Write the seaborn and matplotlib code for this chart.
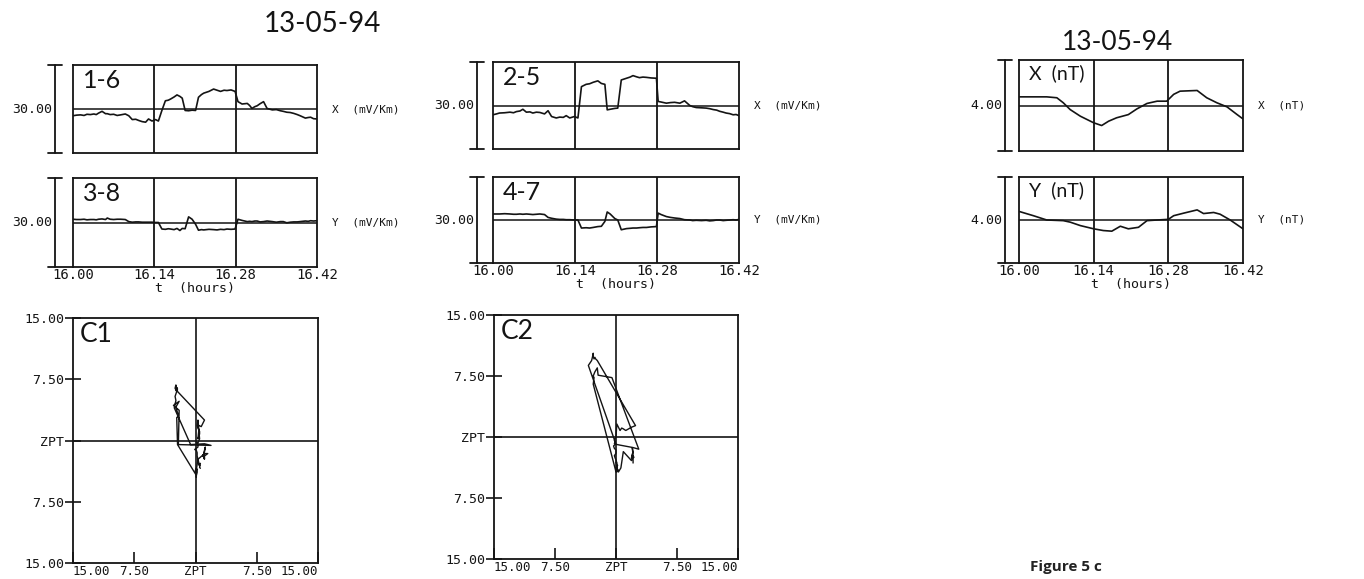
import numpy as np
import matplotlib
matplotlib.use("Agg")
import matplotlib.pyplot as plt
import seaborn as sns

# ---------------- data ----------------
title = "13-05-94"
x_ticks = [16.00, 16.14, 16.28, 16.42]
x_tick_labels = ["16.00", "16.14", "16.28", "16.42"]
hodo_ticks = [-15.0, -7.5, 0.0, 7.5, 15.0]
hodo_tick_labels = ["15.00", "7.50", "ZPT", "7.50", "15.00"]

# left column: electric channels 1-6 (X) and 3-8 (Y), mV/Km
t_left = [16.000, 16.006, 16.013, 16.019, 16.024, 16.030, 16.036, 16.040, 16.044, 16.050,
          16.056, 16.059, 16.064, 16.070, 16.076, 16.082, 16.090, 16.096, 16.102, 16.108,
          16.113, 16.119, 16.125, 16.130, 16.136, 16.142, 16.147, 16.153, 16.159, 16.164,
          16.168, 16.174, 16.179, 16.184, 16.188, 16.193, 16.199, 16.205, 16.211, 16.216,
          16.221, 16.225, 16.234, 16.242, 16.248, 16.254, 16.260, 16.265, 16.272, 16.279,
          16.284, 16.291, 16.300, 16.304, 16.308, 16.313, 16.317, 16.322, 16.328, 16.334,
          16.343, 16.350, 16.357, 16.362, 16.368, 16.374, 16.380, 16.386, 16.391, 16.400,
          16.405, 16.409, 16.414, 16.420]
ex_16 = [-2.3, -2.1, -2.0, -2.2, -1.8, -1.9, -1.7, -1.9, -1.4, -0.8,
         -1.6, -1.6, -1.9, -1.8, -2.2, -2.0, -1.7, -2.3, -3.6, -3.5,
         -3.9, -4.3, -4.5, -3.4, -4.1, -3.6, -4.1, -0.5, 2.8, 3.0,
         3.4, 4.1, 4.8, 4.3, 3.7, -0.5, -0.6, -0.4, -0.5, 4.0,
         4.9, 5.4, 6.0, 6.8, 6.4, 6.0, 6.4, 6.3, 6.5, 6.0,
         2.5, 1.7, 1.9, 1.2, 0.2, 0.8, 1.1, 1.8, 2.5, 0.2,
         -0.3, -0.2, -0.6, -0.8, -1.1, -1.2, -1.5, -1.9, -2.3, -3.1,
         -2.9, -2.8, -3.3, -3.4]
ey_38 = [1.1, 1.0, 1.0, 1.1, 0.9, 1.0, 1.0, 0.9, 1.1, 1.2,
         1.0, 1.5, 1.1, 1.0, 1.1, 1.1, 1.0, 0.3, 0.1, 0.2,
         0.2, 0.1, 0.1, 0.1, 0.1, 0.0, 0.0, -2.2, -2.3, -2.1,
         -2.2, -2.4, -2.0, -2.7, -2.0, -2.1, 1.9, 1.1, -0.6, -2.6,
         -2.4, -2.5, -2.3, -2.4, -2.5, -2.3, -2.4, -2.2, -2.3, -2.2,
         1.1, 0.7, 0.3, 0.4, 0.3, 0.5, 0.5, 0.2, 0.3, 0.5,
         0.3, 0.1, 0.3, 0.3, -0.1, 0.1, 0.2, 0.2, 0.3, 0.5,
         0.4, 0.6, 0.5, 0.6]

# middle column: electric channels 2-5 (X) and 4-7 (Y), mV/Km
t_right = [16.000, 16.006, 16.011, 16.020, 16.029, 16.035, 16.040, 16.046, 16.051, 16.057,
           16.063, 16.068, 16.074, 16.080, 16.088, 16.094, 16.100, 16.108, 16.114, 16.120,
           16.125, 16.131, 16.139, 16.145, 16.151, 16.159, 16.165, 16.171, 16.179, 16.185,
           16.191, 16.195, 16.200, 16.208, 16.213, 16.219, 16.228, 16.234, 16.239, 16.245,
           16.250, 16.256, 16.262, 16.270, 16.279, 16.282, 16.287, 16.296, 16.303, 16.310,
           16.319, 16.327, 16.336, 16.341, 16.347, 16.356, 16.364, 16.370, 16.376, 16.382,
           16.387, 16.393, 16.398, 16.404, 16.410, 16.415, 16.420]
ex_25 = [-3.2, -2.9, -2.6, -2.5, -2.3, -2.5, -2.1, -1.9, -1.3, -2.3,
         -2.2, -2.6, -2.3, -2.4, -2.9, -1.8, -3.8, -4.3, -4.0, -4.1,
         -3.5, -4.3, -3.8, -4.3, 6.5, 7.3, 7.5, 8.0, 8.5, 7.6,
         7.3, -1.5, -1.3, -1.0, -0.9, 8.8, 9.4, 9.8, 10.3, 9.9,
         9.6, 9.8, 9.7, 9.5, 9.4, 1.4, 1.2, 0.8, 1.0, 1.1,
         0.8, 1.6, 0.0, -0.4, -0.7, -0.8, -0.9, -1.1, -1.4, -1.6,
         -2.0, -2.3, -2.6, -2.8, -3.2, -3.1, -3.5]
ey_47 = [2.1, 2.1, 2.1, 2.2, 2.1, 2.0, 2.0, 2.1, 2.0, 2.1,
         2.0, 1.9, 2.0, 2.1, 1.9, 0.9, 0.6, 0.3, 0.2, 0.2,
         0.1, 0.1, 0.0, 0.0, -2.8, -2.7, -2.8, -2.6, -2.3, -2.2,
         -0.5, 2.8, 2.1, 0.5, 0.0, -3.4, -3.0, -2.9, -2.8, -2.8,
         -2.7, -2.6, -2.6, -2.4, -2.3, 2.4, 1.9, 1.2, 0.9, 0.7,
         0.5, 0.1, 0.0, -0.2, -0.1, -0.2, -0.1, -0.3, -0.2, 0.0,
         0.0, -0.2, -0.1, 0.0, 0.1, 0.0, 0.2]

# right column: magnetic channels, nT
t_mag_x = [16.000, 16.052, 16.071, 16.083, 16.096, 16.115, 16.140, 16.155, 16.168, 16.183,
           16.205, 16.221, 16.240, 16.259, 16.277, 16.290, 16.302, 16.334, 16.352, 16.371,
           16.390, 16.409, 16.420]
bx_nt = [0.38, 0.38, 0.34, 0.12, -0.18, -0.47, -0.76, -0.88, -0.69, -0.54,
         -0.40, -0.15, 0.09, 0.19, 0.19, 0.49, 0.63, 0.66, 0.34, 0.12,
         -0.06, -0.40, -0.59]
t_mag_y = [16.000, 16.027, 16.052, 16.083, 16.096, 16.115, 16.140, 16.158, 16.174, 16.190,
           16.205, 16.224, 16.240, 16.259, 16.280, 16.290, 16.309, 16.334, 16.346, 16.365,
           16.377, 16.396, 16.420]
by_nt = [0.40, 0.20, 0.00, -0.03, -0.10, -0.26, -0.41, -0.49, -0.52, -0.29,
         -0.41, -0.34, -0.03, 0.00, 0.03, 0.20, 0.32, 0.47, 0.30, 0.35,
         0.27, 0.00, -0.41]

# ---------------- style ----------------
sns.set_theme(style="white")
plt.rcParams['font.family'] = ['DejaVu Sans Mono', 'DejaVu Sans']
INK = "#141414"
LABEL_FONT = dict(family=['Lato', 'DejaVu Sans'], weight='normal')

W, H = 1364, 579
fig = plt.figure(figsize=(W / 100, H / 100), dpi=100)
fig.patch.set_facecolor("white")


def rect(l, t, r, b):
    return [l / W, 1 - b / H, (r - l) / W, (b - t) / H]


def frame(ax, lw=1.3):
    for s in ax.spines.values():
        s.set_visible(True)
        s.set_color(INK)
        s.set_linewidth(lw)
    ax.set_facecolor("white")


def ts_panel(box, t, v, half, label, scale_text, side_text, bracket_x, label_size=18, bottom=False):
    l, tp, r, b = box
    w, h = r - l, b - tp
    ax = fig.add_axes(rect(*box))
    sns.lineplot(x=np.asarray(t), y=np.asarray(v), ax=ax, color=INK, lw=1.2,
                 sort=False, estimator=None)
    ax.set_xlim(16.0, 16.42)
    ax.set_ylim(-half, half)
    ax.axhline(0, color=INK, lw=1.1)
    for xv in x_ticks[1:3]:
        ax.axvline(xv, color=INK, lw=1.3)
    frame(ax)
    ax.set_yticks([])
    ax.set_ylabel("")
    # scale bracket
    bxa = (bracket_x - l) / w
    cap = 7 / w
    kw = dict(transform=ax.transAxes, clip_on=False, color=INK, lw=1.3)
    ax.plot([bxa, bxa], [0, 1], **kw)
    ax.plot([bxa - cap, bxa + cap], [1, 1], **kw)
    ax.plot([bxa - cap, 0.0 if bottom else bxa + cap], [0, 0], **kw)
    ax.text(bxa - 3 / w, 0.5, scale_text, transform=ax.transAxes, ha='right', va='center',
            fontsize=9.5, color=INK)
    ax.text(1 + 15 / w, 0.5, side_text, transform=ax.transAxes, ha='left', va='center',
            fontsize=8, color=INK)
    ax.text(10 / w, 1 - 4 / h, label, transform=ax.transAxes, ha='left', va='top',
            fontsize=label_size, color=INK, **LABEL_FONT)
    if bottom:
        ax.set_xticks(x_ticks, x_tick_labels)
        ax.tick_params(axis='x', length=0, pad=1, labelsize=10, colors=INK)
        ax.set_xlabel("t  (hours)", fontsize=9.5, color=INK, labelpad=0)
    else:
        ax.set_xticks([])
        ax.set_xlabel("")
    return ax


def hodo_panel(box, xs, ys, label):
    l, tp, r, b = box
    w, h = r - l, b - tp
    ax = fig.add_axes(rect(*box))
    sns.lineplot(x=np.asarray(xs), y=np.asarray(ys), ax=ax, color=INK, lw=1.0,
                 sort=False, estimator=None)
    ax.set_xlim(-15, 15)
    ax.set_ylim(-15, 15)
    ax.axhline(0, color=INK, lw=1.2)
    ax.axvline(0, color=INK, lw=1.2)
    frame(ax)
    ax.set_xticks(hodo_ticks, hodo_tick_labels)
    ax.set_yticks(hodo_ticks, hodo_tick_labels)
    ax.tick_params(axis='y', direction='inout', length=11, width=1.2, colors=INK,
                   labelsize=9.5, left=True, pad=1)
    ax.tick_params(axis='x', direction='in', length=8, width=1.2, colors=INK,
                   labelsize=9, bottom=True, pad=1.5)
    xl = ax.get_xticklabels()
    xl[0].set_ha('left')
    xl[-1].set_ha('right')
    ax.set_xlabel("")
    ax.set_ylabel("")
    ax.text(7 / w, 1 - 4 / h, label, transform=ax.transAxes, ha='left', va='top',
            fontsize=19, color=INK, **LABEL_FONT)
    return ax


# time-series panels
ts_panel((73, 65, 317, 153), t_left, ex_16, 15, "1-6", "30.00", "X  (mV/Km)", 55)
ts_panel((73, 178, 317, 267), t_left, ey_38, 15, "3-8", "30.00", "Y  (mV/Km)", 55, bottom=True)
ts_panel((493, 62, 739, 149), t_right, ex_25, 15, "2-5", "30.00", "X  (mV/Km)", 477)
ts_panel((493, 177, 739, 263), t_right, ey_47, 15, "4-7", "30.00", "Y  (mV/Km)", 477, bottom=True)
ts_panel((1019, 60, 1243, 151), t_mag_x, bx_nt, 2, "X  (nT)", "4.00", "X  (nT)", 1005, label_size=14)
ts_panel((1019, 177, 1243, 263), t_mag_y, by_nt, 2, "Y  (nT)", "4.00", "Y  (nT)", 1005, label_size=14,
         bottom=True)

# hodograms (Y component horizontal, X component vertical)
hodo_panel((73, 318, 318, 563), ey_38, ex_16, "C1")
hodo_panel((494, 315, 738, 559), ey_47, ex_25, "C2")

# titles and caption
fig.text(322 / W, 1 - 24 / H, title, ha='center', va='center', fontsize=20, color=INK, **LABEL_FONT)
fig.text(1118 / W, 1 - 42 / H, title, ha='center', va='center', fontsize=19, color=INK, **LABEL_FONT)
fig.text(1030 / W, 1 - 567 / H, "Figure 5 c", ha='left', va='center', fontsize=11,
         fontweight='bold', family=['Open Sans', 'DejaVu Sans'], color="#222222")

fig.savefig("out.png", dpi=100, facecolor="white")
